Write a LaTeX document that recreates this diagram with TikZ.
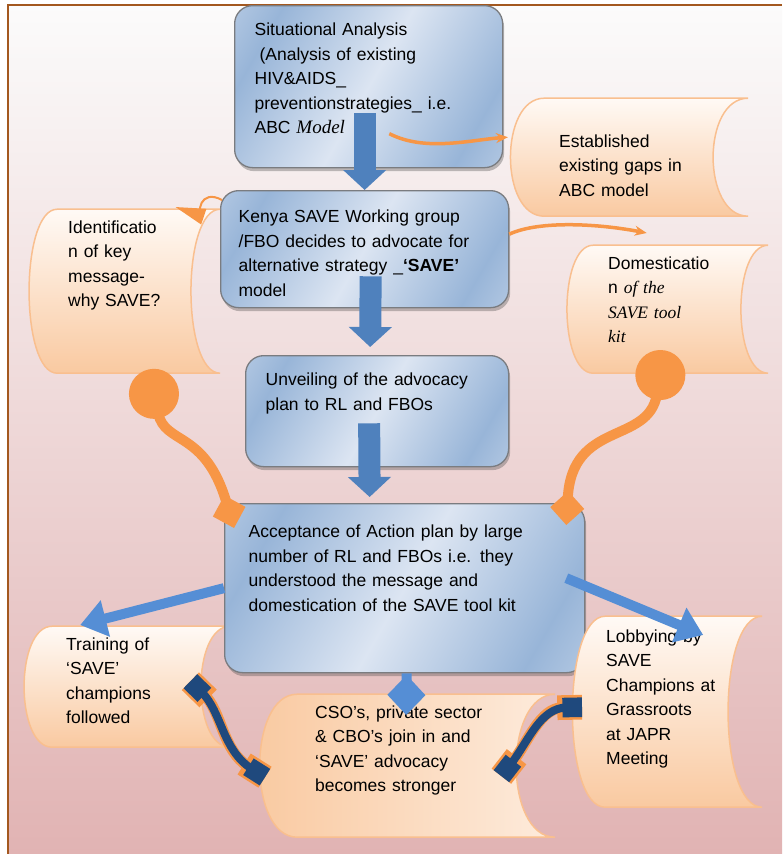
\documentclass[tikz,border=0pt]{standalone}
\usepackage{fontspec}
\setmainfont{Liberation Sans}
\newfontfamily\handfont{Liberation Serif}
\usetikzlibrary{arrows.meta,shadows}

\definecolor{bgtop}{HTML}{FBFBFB}
\definecolor{bgbot}{HTML}{E1B3B3}
\definecolor{framebrown}{HTML}{A3581F}
\definecolor{bxlight}{HTML}{DCE5F2}
\definecolor{bxdark}{HTML}{98B5D8}
\definecolor{boxline}{HTML}{7A7C80}
\definecolor{peachtop}{HTML}{FFFAF6}
\definecolor{peachbot}{HTML}{F9C9A0}
\definecolor{peachline}{HTML}{F9BF8F}
\definecolor{arrowblue}{HTML}{4F81BD}
\definecolor{sideblue}{HTML}{558ED5}
\definecolor{navy}{HTML}{1F497D}
\definecolor{linkorange}{HTML}{F79646}

\pgfdeclarehorizontalshading{boxsheen}{100bp}{color(0bp)=(bxlight); color(25bp)=(bxdark); color(50bp)=(bxlight); color(75bp)=(bxdark); color(100bp)=(bxlight)}

\tikzset{
  txt/.style={font=\fontsize{17.5}{24.5}\selectfont, align=left, inner sep=0pt, anchor=north west},
  bluebox/.style={txt, draw=boxline, line width=1.3pt, rounded corners=18pt,
    shading=boxsheen, shading angle=-30,
    drop shadow={shadow xshift=1.5pt, shadow yshift=-3.5pt, opacity=.35, fill=black!70}},
  bulge/.store in=\scbulge, bulge=32pt,
  scrollshade/.style={top color=peachtop, bottom color=peachbot},
  scroll/.style={txt, path picture={
    \shadedraw[scrollshade, draw=peachline, line width=1.5pt]
      ([xshift=\scbulge, yshift=-1pt]path picture bounding box.north west)
      -- ([yshift=-1pt]path picture bounding box.north east)
      .. controls ([xshift=-1.3*\scbulge, yshift=-1pt]path picture bounding box.north east)
         and ([xshift=-1.3*\scbulge, yshift=1pt]path picture bounding box.south east)
      .. ([yshift=1pt]path picture bounding box.south east)
      -- ([xshift=\scbulge, yshift=1pt]path picture bounding box.south west)
      .. controls ([xshift=-0.25*\scbulge, yshift=1pt]path picture bounding box.south west)
         and ([xshift=-0.25*\scbulge, yshift=-1pt]path picture bounding box.north west)
      .. cycle;}},
  downarrow/.style={arrowblue, line width=22pt, -{Triangle[length=20pt, width=42pt]}},
  curlyarrow/.style={linkorange, line width=3.5pt, -{Stealth[length=12pt, width=10pt]}},
  balllink/.style={linkorange, line width=10pt, {Circle[length=50pt, width=50pt]}-{Diamond[length=34pt, width=34pt]}},
  sidearrow/.style={sideblue, line width=10pt, -{Triangle[length=26pt, width=36pt]}},
  wavelink/.style={navy, line width=8pt, {Square[length=6pt 1.7, width=6pt 1.7]}-{Square[length=6pt 1.7, width=6pt 1.7]},
    preaction={draw=linkorange, line width=11pt}},
}

\begin{document}
\begin{tikzpicture}[x=1pt, y=-1pt]
    \useasboundingbox (0,0) rectangle (782,854);

    % --- Paper and frame ---
    \shade[top color=bgtop, bottom color=bgbot] (8,5) rectangle (782,854);
    \draw[framebrown, line width=1.6pt] (8,854) -- (8,5) -- (782,5);

    % --- Main flow boxes and side scrolls ---
    % text height = top edge to first baseline, text depth = first baseline to bottom edge
    \node[bluebox, minimum width=268pt, text width=228pt, text height=30pt, text depth=132pt] (sit) at (234,5)
        {Situational Analysis\\\hspace*{0.28em}(Analysis of existing\\HIV\&AIDS\_\\preventionstrategies\_ i.e.\\ABC {\handfont\itshape\fontsize{19}{24.5}\selectfont Model}};
    \node[scroll, bulge=36pt, minimum width=240pt, text width=138pt, text height=50pt, text depth=70pt] (gaps) at (508,97)
        {Established\\existing gaps in\\ABC model};
    \node[bluebox, minimum width=288pt, text width=252pt, text height=32pt, text depth=85pt] (kenya) at (220,190)
        {Kenya SAVE Working group\\/FBO decides to advocate for\\alternative strategy \_{\bfseries`SAVE'}\\model};
    \node[scroll, bulge=30pt, minimum width=193pt, text width=111pt, text height=25pt, text depth=141pt] (ident) at (27,208)
        {Identificatio\\n of key\\message-\\why SAVE?};
    \node[scroll, bulge=28pt, minimum width=203pt, text width=117pt, text height=25pt, text depth=105pt] (domest) at (565,244)
        {Domesticatio\\n {\handfont\itshape of the}\\{\handfont\itshape SAVE tool}\\{\handfont\itshape kit}};
    \node[bluebox, minimum width=263pt, text width=223pt, text height=30pt, text depth=81pt] (unveil) at (245,355)
        {Unveiling of the advocacy\\plan to RL and FBOs};
    \node[scroll, bulge=30pt, minimum width=208pt, text width=120pt, text height=25pt, text depth=98pt] (train) at (22,625)
        {Training of\\`SAVE'\\champions\\followed};
    \node[scroll, bulge=40pt, scrollshade/.style={left color=peachbot, right color=peachtop!70!peachbot},
          minimum width=298pt, text width=182pt, text height=25pt, text depth=120pt] (cso) at (257,693)
        {CSO's, private sector\\\& CBO's join in and\\`SAVE' advocacy\\becomes stronger};
    \node[bluebox, minimum width=360pt, text width=312pt, text height=34pt, text depth=135pt] (accept) at (224,503)
        {Acceptance of Action plan by large\\number of RL and FBOs i.e. they\\understood the message and\\domestication of the SAVE tool kit};
    \node[scroll, bulge=35pt, minimum width=192pt, text width=120pt, text height=27pt, text depth=166pt] (lobby) at (570,615)
        {Lobbying by\\SAVE\\Champions at\\Grassroots\\at JAPR\\Meeting};

    % --- Block arrows down the middle ---
    \draw[downarrow] ([xshift=-4pt, yshift=55pt]sit.south) -- (kenya.north);
    \draw[downarrow] ([xshift=6pt, yshift=32pt]kenya.south) -- ([xshift=-7pt, yshift=8pt]unveil.north);
    \draw[downarrow] ([xshift=-8pt, yshift=44pt]unveil.south) -- ([xshift=-35pt, yshift=6pt]accept.north);

    % --- Curved orange arrows to the upper scrolls ---
    \draw[curlyarrow] ([xshift=-114pt, yshift=-47pt]sit.east) .. controls (425,152) and (470,140) .. ([yshift=20pt]gaps.west);
    \draw[curlyarrow] ([yshift=15pt]kenya.east) .. controls (540,220) and (600,224) .. ([xshift=-20pt, yshift=11pt]domest.north);
    \draw[curlyarrow, line width=2pt, -{Triangle[length=30pt, width=16pt]}]
        ([xshift=2pt, yshift=-10pt]kenya.north west) .. controls (200,188) and (196,214) .. ([xshift=-45pt, yshift=1pt]ident.north east);

    % --- Ball and diamond links into the acceptance box ---
    \draw[balllink] ([xshift=25pt, yshift=5pt]ident.south) .. controls (165,445) and (205,430) .. ([xshift=10pt, yshift=-25pt]accept.north west);
    \draw[balllink] ([xshift=-2pt, yshift=24pt]domest.south) .. controls (648,445) and (572,420) .. ([xshift=-19pt, yshift=-22pt]accept.north east);

    % --- Blue arrows out of the acceptance box ---
    \draw[sidearrow] (accept.west) -- ([xshift=-46pt]train.north);
    \draw[sidearrow] ([xshift=-19pt, yshift=10pt]accept.east) -- ([xshift=37pt, yshift=-20pt]lobby.north);
    \draw[sidearrow, -{Diamond[length=40pt, width=38pt]}] ([xshift=2pt]accept.south) -- ([yshift=-22pt]cso.north);

    % --- Wavy links between the bottom scrolls ---
    \draw[wavelink] ([xshift=-40pt, yshift=5.5pt]train.east) .. controls (222,712) and (222,750) .. ([xshift=8pt, yshift=-11.5pt]cso.west);
    \draw[wavelink] ([xshift=-54pt, yshift=-10.5pt]cso.east) .. controls (528,742) and (540,708) .. ([xshift=12pt, yshift=4.5pt]lobby.west);
\end{tikzpicture}
\end{document}
